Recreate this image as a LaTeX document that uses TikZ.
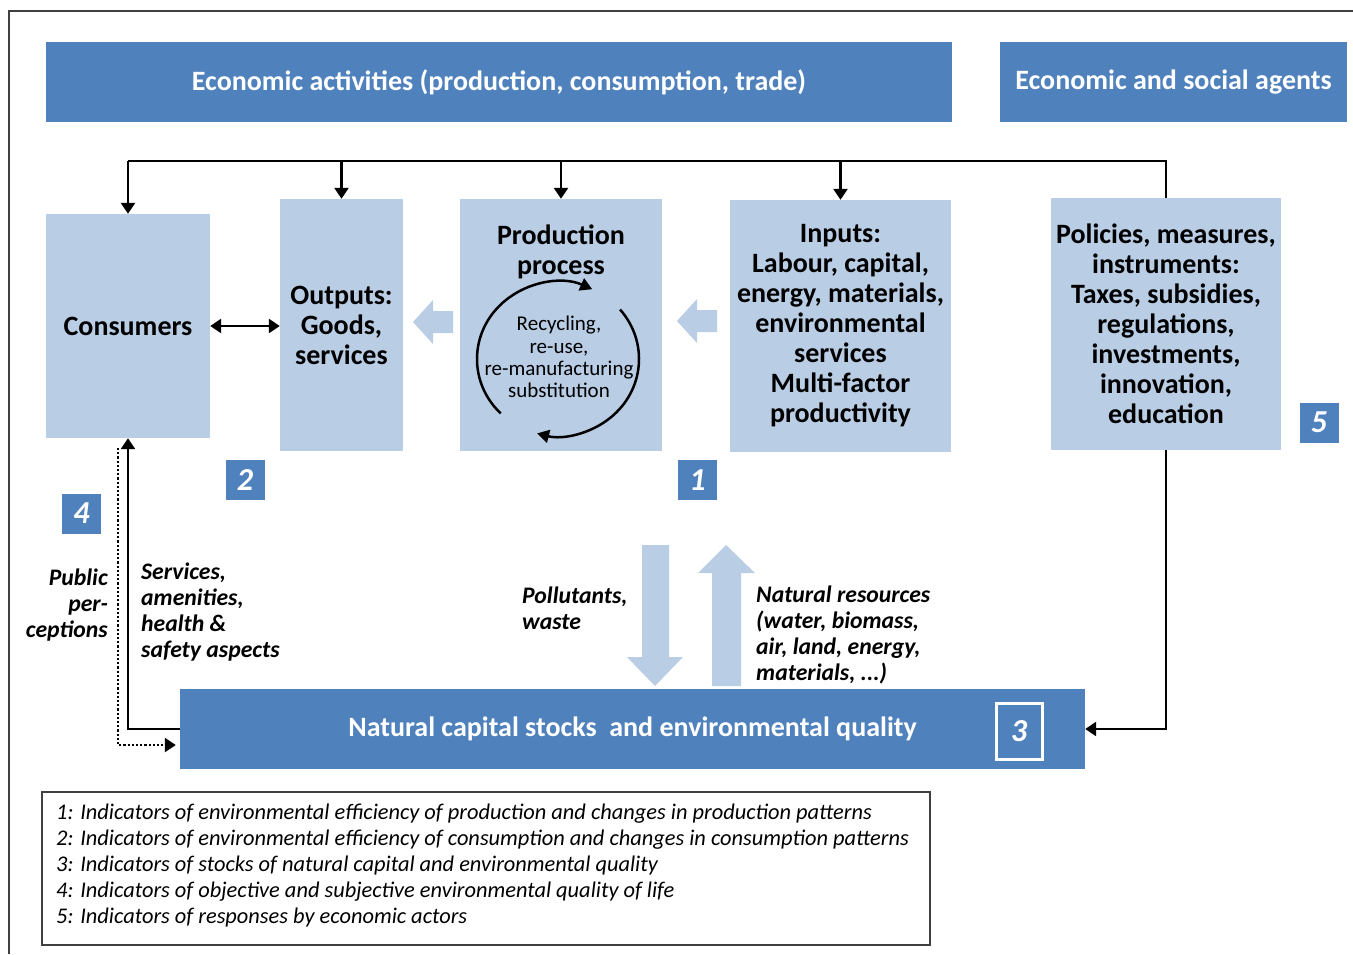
\documentclass[tikz,border=0pt]{standalone}
\usepackage{fontspec}
\setmainfont{Carlito}
\usetikzlibrary{arrows.meta,calc}
\definecolor{dblue}{HTML}{4F81BD}
\definecolor{lblue}{HTML}{B9CDE5}
\begin{document}
\begin{tikzpicture}[x=1pt,y=-1pt,
  banner/.style={fill=dblue, text=white, inner sep=0, font=\bfseries\fontsize{28}{34}\selectfont},
  lbox/.style={fill=lblue, inner sep=0, align=center, font=\bfseries\fontsize{28}{30}\selectfont},
  numbox/.style={fill=dblue, text=white, inner sep=0, minimum width=39, minimum height=40,
    font=\bfseries\itshape\fontsize{32}{32}\selectfont},
  lab/.style={inner sep=0, font=\bfseries\itshape\fontsize{23.7}{26}\selectfont},
  arr/.style={line width=2.5, -{Triangle[length=11,width=14]}},
  flowarrow/.style={fill=lblue, draw=none},
  cyclearr/.style={line width=2.5, -{Triangle[length=12,width=13]}}
]
\useasboundingbox (0,0) rectangle (1353,954);
% outer frame
\draw[line width=1.5, black!75] (9,954) -- (9,11) -- (1353,11);

% banners
\node[banner, minimum width=906, minimum height=80] (econ) at (499,82)
  {Economic activities (production, consumption, trade)};
\node[banner, minimum width=347, minimum height=80] (agents) at (1173.5,82)
  {Economic and social agents};

% main boxes
\node[lbox, minimum width=164, minimum height=224] (cons) at (128,326) {Consumers};
\node[lbox, minimum width=123, minimum height=252] (out) at (341.5,325) {Outputs:\\Goods,\\services};
\node[lbox, minimum width=202, minimum height=252] (prod) at (561,325) {};
\node[lbox, inner sep=0] (prodtitle) at (561,252) {Production\\process};
\node[lbox, minimum width=221, minimum height=252] (inp) at (840.5,326)
  {Inputs:\\Labour, capital,\\energy, materials,\\environmental\\services\\Multi-factor\\productivity};
\node[lbox, minimum width=230, minimum height=252] (pol) at (1166,324)
  {Policies, measures,\\instruments:\\Taxes, subsidies,\\regulations,\\investments,\\innovation,\\education};

% recycling cycle
\coordinate (cyc) at (558,359);
\node[inner sep=0, align=center, font=\fontsize{21}{22.3}\selectfont] (recyc) at (559,357)
  {Recycling,\\re-use,\\re-manufacturing\\substitution};
\draw[cyclearr] ($(cyc)+(135:81 and 77)$) arc[start angle=135, end angle=295, x radius=81, y radius=77];
\draw[cyclearr] ($(cyc)+(-40:81 and 77)$) arc[start angle=-40, end angle=105, x radius=81, y radius=77];

% block arrows between boxes
\fill[flowarrow] (413,322) -- (433,300) -- (433,311) -- (453,311) -- (453,333) -- (433,333) -- (433,344) -- cycle;
\fill[flowarrow] (677,321) -- (697,299) -- (697,310) -- (717,310) -- (717,332) -- (697,332) -- (697,343) -- cycle;

% natural capital bar
\node[banner, minimum width=905, minimum height=80, font=\bfseries\fontsize{28}{32}\selectfont] (nat) at (632.5,729)
  {Natural capital stocks~ and environmental quality};
\node[draw=white, line width=3, fill=dblue, text=white, minimum width=46, minimum height=56, inner sep=0,
  font=\bfseries\itshape\fontsize{32}{32}\selectfont] (n3) at (1019,731) {3};

% flows to and from nature
\fill[flowarrow] (642,545) -- (669,545) -- (669,657) -- (683,657) -- (655,686) -- (627,657) -- (642,657) -- cycle;
\fill[flowarrow] (726,545) -- (755,573) -- (741,573) -- (741,686) -- (712,686) -- (712,573) -- (698,573) -- cycle;

% numbered markers
\node[numbox] (n5) at (1319,422.5) {5};
\node[numbox] (n2) at (245,480) {2};
\node[numbox] (n1) at (697.5,480) {1};
\node[numbox] (n4) at (81.5,513.5) {4};

% connectors
\coordinate (bus) at (1166,161);
\draw[line width=2.5] (pol.north) -- (bus) -- (bus -| cons.north);
\draw[arr] (bus -| cons.north) -- (cons.north);
\draw[arr] (bus -| out.north) -- (out.north);
\draw[arr] (bus -| prod.north) -- (prod.north);
\draw[arr] (bus -| inp.north) -- (inp.north);
\draw[arr] (pol.south) |- (nat.east);
\draw[line width=2.5, {Triangle[length=11,width=14]}-{Triangle[length=11,width=14]}] (cons.east) -- (cons.east -| out.west);
\draw[arr] (nat.west) -| (cons.south);
\coordinate (pp) at (118,448);
\draw[line width=2.2, dotted] (pp) |- ($(nat.west)+(-8,16)$);
\draw[line width=2.2, -{Triangle[length=11,width=14]}] ($(nat.west)+(-9,16)$) -- ($(nat.west)+(-4,16)$);

% labels
\node[lab, align=right, anchor=east] (lpub) at (108,605) {Public\\per-\\ceptions};
\node[lab, align=left, anchor=west] (lserv) at (141,612) {Services,\\amenities,\\health \&\\safety aspects};
\node[lab, align=left, anchor=west] (lpoll) at (522,608.5) {Pollutants,\\waste};
\node[lab, align=left, anchor=west] (lres) at (756,635) {Natural resources\\(water, biomass,\\air, land, energy,\\materials, ...)};

% legend
\node[draw=black!75, line width=1.5, minimum width=888, minimum height=153, inner sep=0] (legend) at (486,868.5) {};
\node[inner sep=0, align=left, anchor=west, font=\itshape\fontsize{22.4}{26}\selectfont] (legtext) at (56,866)
  {1: Indicators of environmental efficiency of production and changes in production patterns\\
   2: Indicators of environmental efficiency of consumption and changes in consumption patterns\\
   3: Indicators of stocks of natural capital and environmental quality\\
   4: Indicators of objective and subjective environmental quality of life\\
   5: Indicators of responses by economic actors};
\end{tikzpicture}
\end{document}
